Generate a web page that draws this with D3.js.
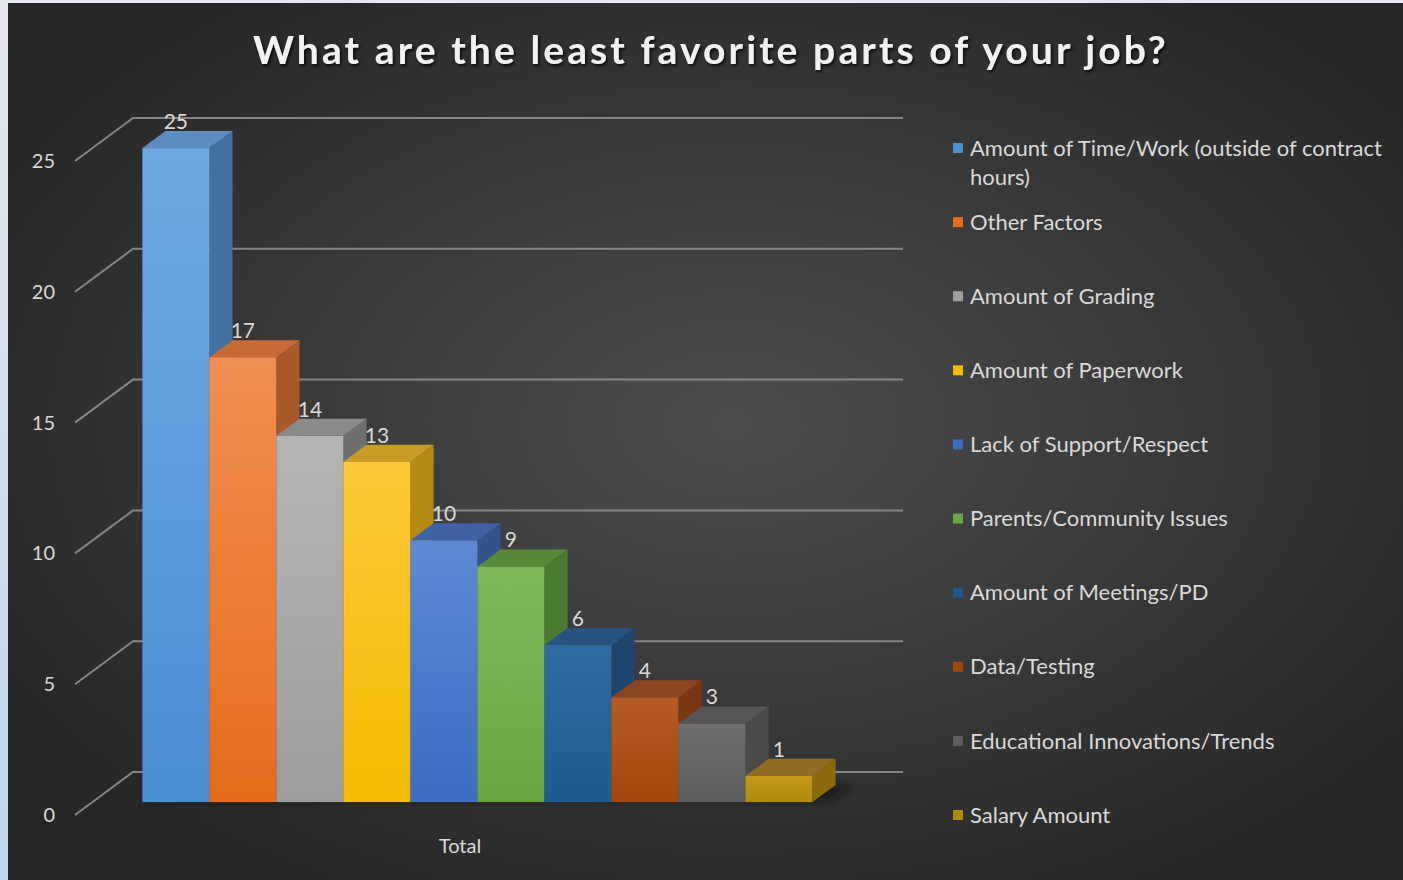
<!DOCTYPE html>
<html>
<head>
<meta charset="utf-8">
<script src="https://cdn.jsdelivr.net/npm/d3@7"></script>
<style>
  html, body { margin: 0; padding: 0; background: #ffffff; }
  svg { display: block; }
  text { font-family: Lato, "Open Sans", "Noto Sans", sans-serif; }
</style>
</head>
<body>
<svg id="chart" width="1403" height="880"></svg>
<script>
// Survey responses: least favorite parts of the job
const categories = [
  "Amount of Time/Work (outside of contract hours)",
  "Other Factors",
  "Amount of Grading",
  "Amount of Paperwork",
  "Lack of Support/Respect",
  "Parents/Community Issues",
  "Amount of Meetings/PD",
  "Data/Testing",
  "Educational Innovations/Trends",
  "Salary Amount"
];
const values = [25, 17, 14, 13, 10, 9, 6, 4, 3, 1];
const yTicks = [0, 5, 10, 15, 20, 25];
const groupLabel = "Total";
const title = "What are the least favorite parts of your job?";

// Face colours per series: front (top, bottom), side, top
const colors = [
  { front: ["#6ea8e2", "#4a8fd2"], side: "#43709e", top: "#5d8cc0" },
  { front: ["#f28f52", "#e46c1c"], side: "#a9582a", top: "#c76a35" },
  { front: ["#b4b4b4", "#9e9e9e"], side: "#6f6f6f", top: "#8a8a8a" },
  { front: ["#ffc93a", "#f2bb00"], side: "#b38a12", top: "#c99d25" },
  { front: ["#5f89d6", "#3d6cc2"], side: "#34528c", top: "#3f62a4" },
  { front: ["#7eb95a", "#68a63f"], side: "#4b7a30", top: "#588a3a" },
  { front: ["#2f6ca3", "#1f5a8f"], side: "#1f456c", top: "#2a5280" },
  { front: ["#b65c26", "#a3460b"], side: "#7a3812", top: "#8c4422" },
  { front: ["#6f6f6f", "#5d5d5d"], side: "#4a4a4a", top: "#565656" },
  { front: ["#c39a1c", "#b08a0a"], side: "#8a6a0c", top: "#8f6d22" }
];

const svg = d3.select("#chart");
const W = 1403, H = 880;
const panel = { x: 8, y: 3, w: W - 8, h: H - 3 };

const defs = svg.append("defs");

// Slide edge behind the chart panel
const edge = defs.append("linearGradient").attr("id", "edge")
  .attr("x1", 0).attr("y1", 0).attr("x2", 0).attr("y2", 1);
edge.append("stop").attr("offset", "0%").attr("stop-color", "#e6e9ee");
edge.append("stop").attr("offset", "100%").attr("stop-color", "#bcd4ec");
svg.append("rect").attr("width", W).attr("height", H).attr("fill", "url(#edge)");

// Chart area background
const bg = defs.append("radialGradient").attr("id", "bg")
  .attr("cx", "52%").attr("cy", "48%").attr("r", "62%");
bg.append("stop").attr("offset", "0%").attr("stop-color", "#4d4d4d");
bg.append("stop").attr("offset", "100%").attr("stop-color", "#262626");
svg.append("rect")
  .attr("x", panel.x).attr("y", panel.y)
  .attr("width", panel.w).attr("height", panel.h)
  .attr("fill", "url(#bg)");

// Filters
const shadowF = defs.append("filter").attr("id", "floorShadow")
  .attr("x", "-20%").attr("y", "-200%").attr("width", "140%").attr("height", "500%");
shadowF.append("feGaussianBlur").attr("stdDeviation", 4);

const titleF = defs.append("filter").attr("id", "titleShadow");
titleF.append("feDropShadow").attr("dx", 1.5).attr("dy", 2).attr("stdDeviation", 1.5)
  .attr("flood-color", "#000").attr("flood-opacity", 0.8);

// 3D projection: depth z in [0,1] moves right and up
const depthDX = 58, depthDY = -43;
const y = d3.scaleLinear().domain([0, 25]).range([815, 161]);
const x = d3.scaleBand().domain(categories).range([75, 845])
  .paddingInner(0).paddingOuter(0.746);
const P = (px, v, z) => [px + depthDX * z, y(v) + depthDY * z];
const zFront = 0.3, zBack = 0.7;

// Gridlines on the back wall, plus the diagonal floor edge
const grid = svg.append("g");
yTicks.forEach(t => {
  const a = P(x.range()[0], t, 0), b = P(x.range()[0], t, 1), c = P(x.range()[1], t, 1);
  grid.append("path")
    .attr("d", d3.line()([a, b, c]))
    .attr("fill", "none")
    .attr("stroke", "#858585")
    .attr("stroke-width", 2);
});

// Value axis labels
svg.append("g").selectAll("text").data(yTicks).join("text")
  .attr("x", 55)
  .attr("y", d => y(d))
  .attr("dy", "0.35em")
  .attr("text-anchor", "end")
  .attr("fill", "#d9d9d9")
  .attr("font-size", 20)
  .text(d => d);

// Soft shadow under the bar row
const lastX = x(categories[categories.length - 1]) + x.bandwidth();
const f0 = P(x(categories[0]), 0, zFront + 0.02);
const f1 = P(lastX + 18, 0, zFront + 0.02);
const f2 = P(lastX + 18, 0, zBack);
const f3 = P(x(categories[0]), 0, zBack);
svg.append("path")
  .attr("d", d3.line()([f0, f1, f2, f3]) + "Z")
  .attr("fill", "#111111")
  .attr("opacity", 0.6)
  .attr("filter", "url(#floorShadow)");

// Front face gradients
colors.forEach((c, i) => {
  const g = defs.append("linearGradient").attr("id", "front" + i)
    .attr("x1", 0).attr("y1", 0).attr("x2", 0).attr("y2", 1);
  g.append("stop").attr("offset", "0%").attr("stop-color", c.front[0]);
  g.append("stop").attr("offset", "100%").attr("stop-color", c.front[1]);
});

// Bars
const bars = svg.append("g");
categories.forEach((cat, i) => {
  const v = values[i];
  const x0 = x(cat), x1 = x0 + x.bandwidth();
  const g = bars.append("g");
  // right side face
  g.append("path")
    .attr("d", d3.line()([P(x1, 0, zFront), P(x1, 0, zBack), P(x1, v, zBack), P(x1, v, zFront)]) + "Z")
    .attr("fill", colors[i].side);
  // top face
  g.append("path")
    .attr("d", d3.line()([P(x0, v, zFront), P(x1, v, zFront), P(x1, v, zBack), P(x0, v, zBack)]) + "Z")
    .attr("fill", colors[i].top);
  // front face
  const a = P(x0, v, zFront), b = P(x1, 0, zFront);
  g.append("rect")
    .attr("x", a[0]).attr("y", a[1])
    .attr("width", b[0] - a[0]).attr("height", b[1] - a[1])
    .attr("fill", `url(#front${i})`);
});

// Value labels above each bar
svg.append("g").selectAll("text").data(categories).join("text")
  .attr("x", d => P(x(d) + x.bandwidth() / 2, 0, zFront)[0])
  .attr("y", (d, i) => P(0, values[i], zBack)[1] - 2)
  .attr("text-anchor", "middle")
  .attr("fill", "#d9d9d9")
  .attr("font-size", 21)
  .text((d, i) => values[i]);

// Category label
svg.append("text")
  .attr("x", (x.range()[0] + x.range()[1]) / 2)
  .attr("y", 853)
  .attr("text-anchor", "middle")
  .attr("fill", "#d9d9d9")
  .attr("font-size", 20)
  .text(groupLabel);

// Title
svg.append("text")
  .attr("x", 711)
  .attr("y", 64)
  .attr("text-anchor", "middle")
  .attr("fill", "#f2f2f2")
  .attr("font-size", 39)
  .attr("font-weight", 700)
  .attr("letter-spacing", 3.1)
  .attr("filter", "url(#titleShadow)")
  .text(title);

// Legend
const legend = svg.append("g");
const legendY = d3.scalePoint().domain(categories).range([148, 815]);
const maxW = 425;
categories.forEach((cat, i) => {
  const cy = legendY(cat);
  legend.append("rect")
    .attr("x", 953).attr("y", cy - 5)
    .attr("width", 10).attr("height", 10)
    .attr("fill", colors[i].front[1]);
  const t = legend.append("text")
    .attr("x", 970).attr("y", cy)
    .attr("fill", "#d9d9d9")
    .attr("font-size", 22);
  // wrap long names onto extra lines
  const words = cat.split(" ");
  let line = [];
  let ts = t.append("tspan").attr("x", 970).attr("dy", "0.35em");
  words.forEach(w => {
    line.push(w);
    ts.text(line.join(" "));
    if (ts.node().getComputedTextLength() > maxW && line.length > 1) {
      line.pop();
      ts.text(line.join(" "));
      line = [w];
      ts = t.append("tspan").attr("x", 970).attr("dy", "1.32em").text(w);
    }
  });
});
</script>
</body>
</html>
